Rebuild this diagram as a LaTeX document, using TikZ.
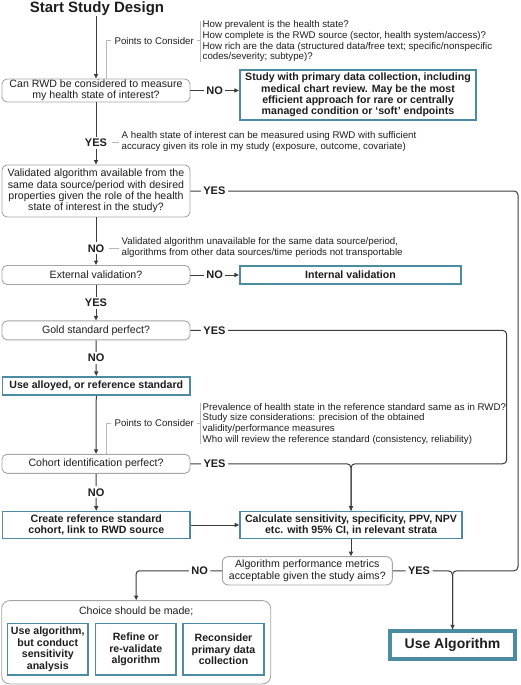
\documentclass[tikz,border=0pt]{standalone}
\usepackage{fontspec}
\setmainfont{Liberation Sans}
\usetikzlibrary{arrows.meta}
\definecolor{boxteal}{RGB}{75,140,162}
\definecolor{grayb}{RGB}{165,165,165}
\definecolor{linec}{RGB}{60,60,60}
\definecolor{noteline}{RGB}{185,185,185}
\definecolor{textc}{RGB}{30,30,30}
\begin{document}
\begin{tikzpicture}[x=1pt,y=-1pt,
  every node/.style={inner sep=0pt, text=textc},
  qbox/.style={draw=grayb, line width=0.9pt, rounded corners=5pt, fill=white, align=center,
    font=\fontsize{10.6}{11.4}\selectfont, minimum width=188pt},
  tbox/.style={draw=boxteal, line width=1.6pt, fill=white, align=center,
    font=\bfseries\fontsize{10.6}{11.4}\selectfont},
  ibox/.style={tbox, minimum width=80.7pt, minimum height=51.7pt, font=\bfseries\fontsize{10.6}{11.7}\selectfont},
  lab/.style={font=\bfseries\fontsize{11}{12}\selectfont, fill=white, inner xsep=2.5pt, inner ysep=2pt},
  conn/.style={draw=linec, line width=1pt},
  arr/.style={conn, -{Triangle[length=4.5pt,width=4pt]}},
  note/.style={draw=noteline, line width=0.8pt},
  notetext/.style={font=\fontsize{9.7}{11.6}\selectfont, align=left},
  brtext/.style={font=\fontsize{9.7}{10.6}\selectfont, align=left, inner xsep=2pt},
  ptc/.style={font=\fontsize{9.7}{11}\selectfont, inner xsep=3pt, inner ysep=1pt}
]
\useasboundingbox (0,0) rectangle (520,685);

% nodes
\node[font=\bfseries\fontsize{15}{18}\selectfont] (title) at (97,8.5) {Start Study Design};
\node[qbox, minimum height=23pt] (q1) at (96,90.5) {Can RWD be considered to measure\\my health state of interest?};
\node[tbox, minimum width=236.5pt, minimum height=50.5pt] (primary) at (358,95)
  {Study with primary data collection, including\\medical chart review. May be the most\\efficient approach for rare or centrally\\managed condition or ‘soft’ endpoints};
\node[qbox, minimum height=52pt] (q2) at (96,191)
  {Validated algorithm available from the\\same data source/period with desired\\properties given the role of the health\\state of interest in the study?};
\node[qbox, minimum height=19pt] (q3) at (96,275) {External validation?};
\node[tbox, minimum width=221.5pt, minimum height=17.5pt] (internal) at (350.5,275) {Internal validation};
\node[qbox, minimum height=19pt] (q4) at (96,330.4) {Gold standard perfect?};
\node[tbox, minimum width=187.5pt, minimum height=18.5pt] (alloyed) at (96.3,386) {Use alloyed, or reference standard};
\node[qbox, minimum height=19pt] (q5) at (96,463.8) {Cohort identification perfect?};
\node[tbox, minimum width=187.5pt, minimum height=27pt] (create) at (96.3,525) {Create reference standard\\cohort, link to RWD source};
\node[tbox, minimum width=222pt, minimum height=27pt] (calc) at (351,525) {Calculate sensitivity, specificity, PPV, NPV\\etc. with 95\% CI, in relevant strata};
\node[qbox, minimum width=170pt, minimum height=28.3pt, rounded corners=6pt] (q6) at (307.3,570.8)
  {Algorithm performance metrics\\acceptable given the study aims?};
\node[qbox, minimum width=269pt, minimum height=83.3pt, rounded corners=8pt] (choice) at (136.2,642.3) {};
\node[font=\fontsize{10.6}{11.4}\selectfont] (choicet) at (136.2,611.7) {Choice should be made;};
\node[ibox] (ca) at (47.8,649.3) {Use algorithm,\\but conduct\\sensitivity\\analysis};
\node[ibox] (cb) at (135.8,649.3) {Refine or\\re-validate\\algorithm};
\node[ibox] (cc) at (223.5,649.3) {Reconsider\\primary data\\collection};
\node[draw=boxteal, line width=3.6pt, fill=white, minimum width=124.8pt, minimum height=28.1pt,
  font=\bfseries\fontsize{14}{16}\selectfont] (usealg) at (452.5,645.2) {Use Algorithm};

% notes
\node[brtext, anchor=west] (notes1) at (200.5,41.2)
  {How prevalent is the health state?\\How complete is the RWD source (sector, health system/access)?\\How rich are the data (structured data/free text; specific/nonspecific\\codes/severity; subtype)?};
\node[ptc] (ptc1) at (154.2,40.7) {Points to Consider};
\draw[note] (notes1.north west) -- (notes1.south west);
\draw[note] ([xshift=10.7pt]q1.north) |- (ptc1.west);
\draw[note] (ptc1.east) -- (notes1.west |- ptc1.east);

\node[brtext, anchor=west] (notes2) at (200.5,423.7)
  {Prevalence of health state in the reference standard same as in RWD?\\Study size considerations: precision of the obtained\\validity/performance measures\\Who will review the reference standard (consistency, reliability)};
\node[ptc] (ptc2) at (154.2,423.3) {Points to Consider};
\draw[note] (notes2.north west) -- (notes2.south west);
\draw[note] ([xshift=10.7pt]q5.north) |- (ptc2.west);
\draw[note] (ptc2.east) -- (notes2.west |- ptc2.east);

\node[notetext, anchor=west] (yesnote) at (121.5,141.5)
  {A health state of interest can be measured using RWD with sufficient\\accuracy given its role in my study (exposure, outcome, covariate)};
\node[notetext, anchor=west] (nonote) at (121.5,247.5)
  {Validated algorithm unavailable for the same data source/period,\\algorithms from other data sources/time periods not transportable};

% connectors
\draw[arr] (q1.north |- title.south) -- (q1.north);
\draw[arr] (q1.east) -- node[lab]{NO} (q1.east -| primary.west);
\draw[arr] (q1) -- node[lab, pos=0.65] (yes1) {YES} (q2);
\draw[note, shorten <=1.5pt, shorten >=3pt] (yes1.east) -- (yesnote.west |- yes1.east);
\draw[arr] (q2) -- node[lab, pos=0.65] (no1) {NO} (q3);
\draw[note, shorten <=1.5pt, shorten >=3pt] (no1.east) -- (nonote.west |- no1.east);
\draw[arr] (q3) -- node[lab]{NO} (internal);
\draw[arr] (q3) -- node[lab]{YES} (q4);
\draw[arr] (q4) -- node[lab]{NO} (alloyed);
\draw[arr] (alloyed) -- (q5);
\draw[arr] (q5) -- node[lab]{NO} (create);
\draw[arr] (create) -- (calc);
\draw[arr] (calc.south) -- (calc.south |- q6.north);

\coordinate (r1) at (518,191);
\coordinate (r2) at (506.7,330.4);
\draw[conn, rounded corners=4pt] (q2.east) -- node[lab, pos=0.073]{YES} (r1) -- (r1 |- q6.east)
  -- (usealg.north |- q6.east) -- (usealg.north);
\draw[arr, rounded corners=4pt] (q6.east) -- node[lab, pos=0.44]{YES} (usealg.north |- q6.east) -- (usealg.north);
\draw[conn, rounded corners=4pt] (q4.east) -- node[lab, pos=0.076]{YES} (r2) -- (r2 |- q5.east)
  -- (calc.north |- q5.east) -- (calc.north);
\draw[arr, rounded corners=4pt] (q5.east) -- node[lab, pos=0.15]{YES} (calc.north |- q5.east) -- (calc.north);
\draw[arr, rounded corners=3pt] (q6.west) -- node[lab, pos=0.26]{NO} (choice.north |- q6.west) -- (choice.north);
\end{tikzpicture}
\end{document}
